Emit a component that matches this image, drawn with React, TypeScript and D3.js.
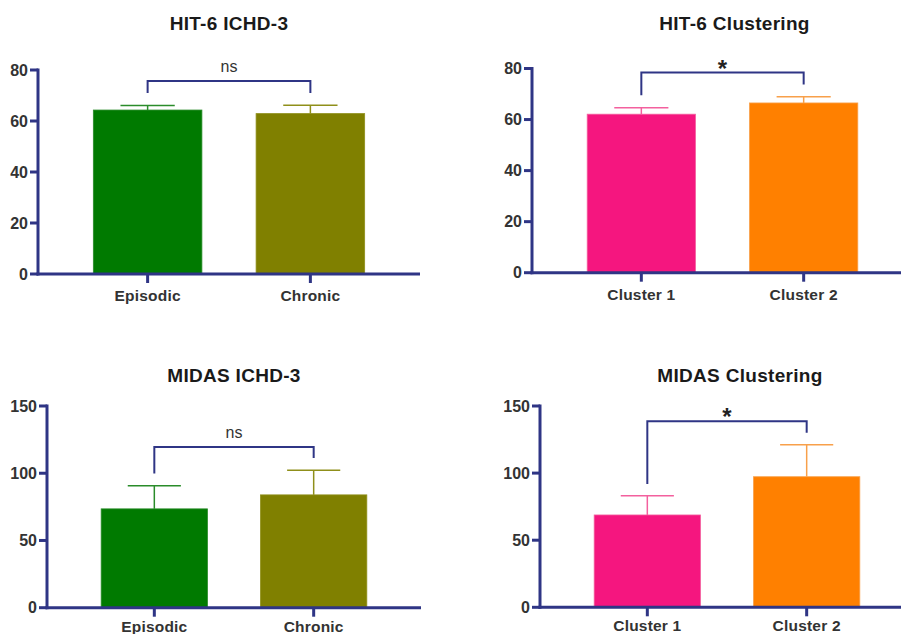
import React from "react";
import * as d3 from "d3";

// values
const ichdGroups = ["Episodic", "Chronic"];
const clusterGroups = ["Cluster 1", "Cluster 2"];

const hitIchdMeans = [64.3, 62.9];
const hitIchdSem = [1.8, 3.3];
const hitClusterMeans = [62.1, 66.5];
const hitClusterSem = [2.5, 2.4];

const midasIchdMeans = [73.5, 83.9];
const midasIchdSem = [17.1, 18.3];
const midasClusterMeans = [68.8, 97.3];
const midasClusterSem = [14.4, 23.8];

const hitTicks = [0, 20, 40, 60, 80];
const midasTicks = [0, 50, 100, 150];

// bracket: [top, left leg end, right leg end] in data units
const hitIchdBracket = [75.7, 71, 71];
const hitClusterBracket = [78.4, 69.5, 73.7];
const midasIchdBracket = [119.5, 99.8, 111.4];
const midasClusterBracket = [138.6, 91.9, 130.1];

const ichdColours = ["#007a00", "#808000"];
const clusterColours = ["#f5167f", "#ff8000"];
const ichdErrColours = ["#2a8c2a", "#8f8f1a"];
const clusterErrColours = ["#f3609e", "#f8a04a"];

const axisColour = "#2f3585";
const font = "'Liberation Sans', Arial, sans-serif";

function Panel(props) {
  const { title, titleY, titleDx = 0, groups, means, sem, colours, errColours, ticks, bracket, sig, x0, x1, yTop, yBottom, labelDy } = props;
  const yMax = ticks[ticks.length - 1];
  const y = d3.scaleLinear().domain([0, yMax]).range([yBottom, yTop]);
  const x = d3.scaleBand().domain(groups).range([x0, x1]).paddingInner(0.333).paddingOuter(0.34);
  const bw = x.bandwidth();
  const cx = (g) => x(g) + bw / 2;
  const bx1 = cx(groups[0]);
  const bx2 = cx(groups[1]);

  return <g>
    <text x={(x0 + x1) / 2 + titleDx} y={titleY} textAnchor="middle" fontFamily={font} fontWeight="bold" fontSize={19} letterSpacing={0.3} fill="#1a1a1a">{title}</text>

    {groups.map((g, i) => <g key={g}>
      <rect x={x(g)} y={y(means[i])} width={bw} height={yBottom - y(means[i])} fill={colours[i]} stroke={errColours[i]} strokeWidth={0.8} />
      <line x1={cx(g)} x2={cx(g)} y1={y(means[i])} y2={y(means[i] + sem[i])} stroke={errColours[i]} strokeWidth={1.5} />
      <line x1={cx(g) - bw / 4} x2={cx(g) + bw / 4} y1={y(means[i] + sem[i])} y2={y(means[i] + sem[i])} stroke={errColours[i]} strokeWidth={1.5} />
      <line x1={cx(g)} x2={cx(g)} y1={yBottom} y2={yBottom + 9} stroke={axisColour} strokeWidth={3} />
      <text x={cx(g)} y={yBottom + labelDy} textAnchor="middle" fontFamily={font} fontWeight="bold" fontSize={15.5} letterSpacing={0.2} fill="#333">{g}</text>
    </g>)}

    {ticks.map(t => <g key={t}>
      <line x1={x0 - 8} x2={x0} y1={y(t)} y2={y(t)} stroke={axisColour} strokeWidth={3} />
      <text x={x0 - 10} y={y(t)} dy="0.36em" textAnchor="end" fontFamily={font} fontWeight="bold" fontSize={16} fill="#333">{t}</text>
    </g>)}

    <line x1={x0} x2={x0} y1={yTop - 1.5} y2={yBottom + 1.5} stroke={axisColour} strokeWidth={3} />
    <line x1={x0 - 1.5} x2={x1} y1={yBottom} y2={yBottom} stroke={axisColour} strokeWidth={3} />

    <path d={`M${bx1},${y(bracket[1])}V${y(bracket[0])}H${bx2}V${y(bracket[2])}`} fill="none" stroke={axisColour} strokeWidth={2} />
    {sig === "ns"
      ? <text x={(bx1 + bx2) / 2} y={y(bracket[0]) - 9} textAnchor="middle" fontFamily={font} fontSize={16} fill="#333">ns</text>
      : <text x={(bx1 + bx2) / 2} y={y(bracket[0]) + 4} textAnchor="middle" fontFamily={font} fontWeight="bold" fontSize={24} fill="#222">{sig}</text>}
  </g>;
}

export default function App() {
  return <svg width={901} height={634} style={{ position: "absolute", left: 0, top: 0, background: "#fff" }}>
    <Panel title="HIT-6 ICHD-3" titleY={30} groups={ichdGroups} means={hitIchdMeans} sem={hitIchdSem} colours={ichdColours} errColours={ichdErrColours}
      ticks={hitTicks} bracket={hitIchdBracket} sig="ns" x0={38} x1={420} yTop={70} yBottom={274} labelDy={27} />
    <Panel title="HIT-6 Clustering" titleY={30} titleDx={12} groups={clusterGroups} means={hitClusterMeans} sem={hitClusterSem} colours={clusterColours} errColours={clusterErrColours}
      ticks={hitTicks} bracket={hitClusterBracket} sig="*" x0={532} x1={913} yTop={68.5} yBottom={272.7} labelDy={27} />
    <Panel title="MIDAS ICHD-3" titleY={382} groups={ichdGroups} means={midasIchdMeans} sem={midasIchdSem} colours={ichdColours} errColours={ichdErrColours}
      ticks={midasTicks} bracket={midasIchdBracket} sig="ns" x0={47} x1={421} yTop={406} yBottom={607.7} labelDy={24} />
    <Panel title="MIDAS Clustering" titleY={382} titleDx={13} groups={clusterGroups} means={midasClusterMeans} sem={midasClusterSem} colours={clusterColours} errColours={clusterErrColours}
      ticks={midasTicks} bracket={midasClusterBracket} sig="*" x0={540} x1={914} yTop={406} yBottom={607.3} labelDy={24} />
  </svg>;
}
